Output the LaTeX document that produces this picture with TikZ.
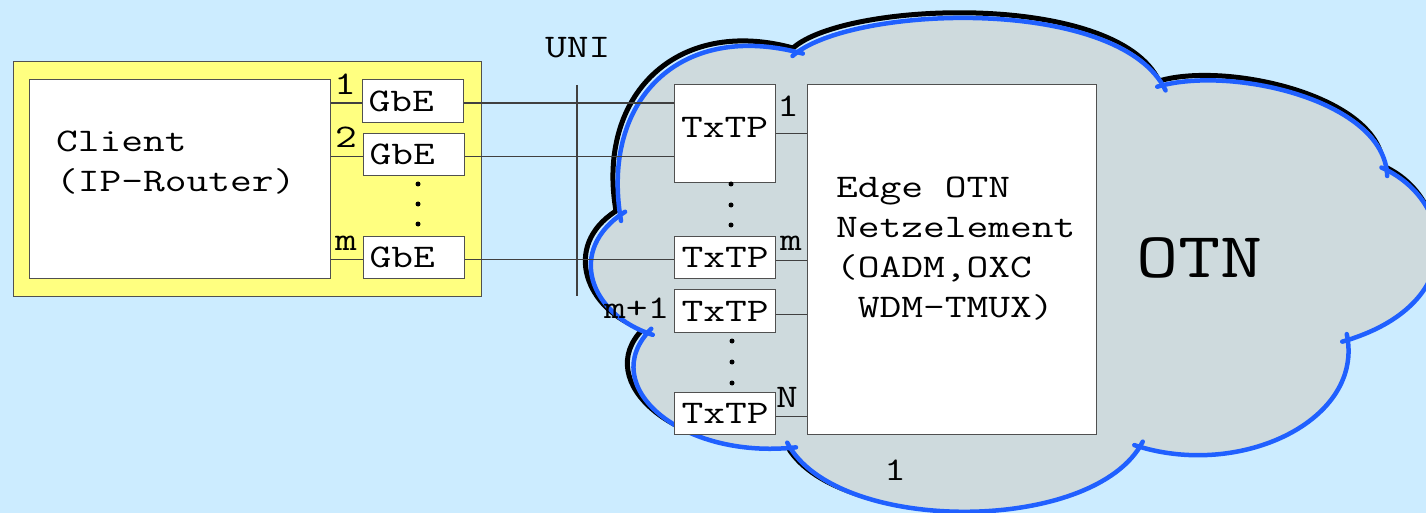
\documentclass[tikz,border=0pt]{standalone}
\usepackage{fontspec}
\setmonofont[FakeStretch=1.28]{Latin Modern Mono}
\definecolor{bgblue}{HTML}{CCECFF}
\definecolor{cloudfill}{HTML}{CEDADD}
\definecolor{cloudblue}{HTML}{2060FF}
\definecolor{clientyellow}{HTML}{FFFF80}
\definecolor{boxgray}{HTML}{505050}
\definecolor{wiregray}{HTML}{404040}
\newcommand\cloudpath{(620,215) .. controls (600,100) and (680,20) .. (797,52)
 .. controls (850,5) and (1120,-5) .. (1163,85)
 .. controls (1230,65) and (1385,100) .. (1387,170)
 .. controls (1455,200) and (1470,305) .. (1348,340)
 .. controls (1365,420) and (1240,480) .. (1140,447)
 .. controls (1095,535) and (835,535) .. (790,448)
 .. controls (680,460) and (595,385) .. (647,333)
 .. controls (590,315) and (565,250) .. (620,215) -- cycle}
\begin{document}
\begin{tikzpicture}[x=1pt,y=-1pt,
  box/.style={draw=boxgray, line width=1.2pt, fill=white, inner sep=0pt, anchor=north west},
  txt/.style={font=\ttfamily\fontsize{33}{40}\selectfont, inner sep=0pt},
  lbl/.style={txt, anchor=base west},
  gbe/.style={box, txt, text width=89pt, align=left, inner xsep=6pt, inner ysep=0pt},
  txtp/.style={box, txt, minimum width=101pt},
  wire/.style={draw=wiregray, line width=1.2pt},
  dot/.style={circle, fill=black, inner sep=0pt, minimum size=5pt},
  bluearc/.style={draw=cloudblue, line width=4.5pt, line cap=round, shorten <=-6pt, shorten >=-6pt},
  shadowline/.style={draw=black, line width=5pt, line join=round}
]
\useasboundingbox (0,0) rectangle (1426,513);
\fill[bgblue] (0,0) rectangle (1426,513);

% cloud
\begin{scope}[shift={(-4,-4)}]
\draw[shadowline] \cloudpath;
\end{scope}
\fill[cloudfill] \cloudpath;
\draw[bluearc] (620,215) .. controls (600,100) and (680,20) .. (797,52);
\draw[bluearc] (797,52) .. controls (850,5) and (1120,-5) .. (1163,85);
\draw[bluearc] (1163,85) .. controls (1230,65) and (1385,100) .. (1387,170);
\draw[bluearc] (1387,170) .. controls (1455,200) and (1470,305) .. (1348,340);
\draw[bluearc] (1348,340) .. controls (1365,420) and (1240,480) .. (1140,447);
\draw[bluearc] (1140,447) .. controls (1095,535) and (835,535) .. (790,448);
\draw[bluearc] (790,448) .. controls (680,460) and (595,385) .. (647,333);
\draw[bluearc] (647,333) .. controls (590,315) and (565,250) .. (620,215);

% client side
\node[box, fill=clientyellow, minimum width=468pt, minimum height=235pt] (ybox) at (13,61) {};
\node[box, minimum width=301pt, minimum height=199pt] (client) at (29,79) {};
\node[lbl] (clientA) at (56,152) {Client};
\node[lbl] (clientB) at (56,192) {(IP-Router)};

\node[gbe, minimum height=43pt] (g1) at (362,79) {GbE};
\node[gbe, minimum height=42pt] (g2) at (363,133) {GbE};
\node[gbe, minimum height=42pt] (gm) at (363,236) {GbE};

\node[lbl] (n1) at (334,95) {1};
\node[lbl] (n2) at (335,148) {2};
\node[lbl] (nm) at (335,250) {m};

\node[dot] (gd1) at (418,184) {};
\node[dot] (gd2) at (418,204) {};
\node[dot] (gd3) at (418,224) {};

\draw[wire] ([yshift=-2pt]g1.west) -- ([yshift=-2pt]g1.west -| client.east);
\draw[wire] ([yshift=-2pt]g2.west) -- ([yshift=-2pt]g2.west -| client.east);
\draw[wire] ([yshift=-2pt]gm.west) -- ([yshift=-2pt]gm.west -| client.east);

% UNI
\node[lbl] (uni) at (545,58) {UNI};
\coordinate (uniTop) at (577,85);
\coordinate (uniBot) at (577,296);
\draw[wire] (uniTop) -- (uniBot);

% TxTP
\node[box, minimum width=101pt, minimum height=98pt] (t1) at (674,84) {};
\node[txt] (t1txt) at (724.5,127) {TxTP};
\node[txtp, minimum height=42pt] (tm) at (674,236) {TxTP};
\node[txtp, minimum height=43pt] (tm1) at (674,289) {TxTP};
\node[txtp, minimum height=42pt] (tN) at (674,392) {TxTP};

\node[dot] (td1) at (731,184) {};
\node[dot] (td2) at (731,205) {};
\node[dot] (td3) at (731,225) {};
\node[dot] (td4) at (732,341) {};
\node[dot] (td5) at (732,362) {};
\node[dot] (td6) at (732,383) {};

\draw[wire] ([yshift=-2pt]g1.east) -- ([yshift=-2pt]g1.east -| t1.west);
\draw[wire] ([yshift=-2pt]g2.east) -- ([yshift=-2pt]g2.east -| t1.west);
\draw[wire] ([yshift=-2pt]gm.east) -- ([yshift=-2pt]gm.east -| tm.west);

% Edge element
\node[box, minimum width=289pt, minimum height=350pt] (edge) at (807,84) {};
\node[lbl] (edgeA) at (836,197) {Edge OTN};
\node[lbl] (edgeB) at (836,237) {Netzelement};
\node[lbl] (edgeC) at (836,277) {(OADM,OXC};
\node[lbl] (edgeD) at (836,317) {\hphantom{X}WDM-TMUX)};

\draw[wire] (t1.east) -- (t1.east -| edge.west);
\draw[wire] ([yshift=-3pt]tm.east) -- ([yshift=-3pt]tm.east -| edge.west);
\draw[wire] ([yshift=-3pt]tm1.east) -- ([yshift=-3pt]tm1.east -| edge.west);
\draw[wire] ([yshift=-3pt]tN.east) -- ([yshift=-3pt]tN.east -| edge.west);

\node[lbl] (p1) at (777,117) {1};
\node[lbl] (pm) at (780,250) {m};
\node[lbl] (pm1) at (604,318) {m+1};
\node[lbl] (pN) at (776,407) {N};
\node[lbl] (bot1) at (884,480) {1};

\node[font=\ttfamily\fontsize{64}{70}\selectfont, inner sep=0pt, anchor=base west] (otn) at (1136,277) {OTN};
\end{tikzpicture}
\end{document}
